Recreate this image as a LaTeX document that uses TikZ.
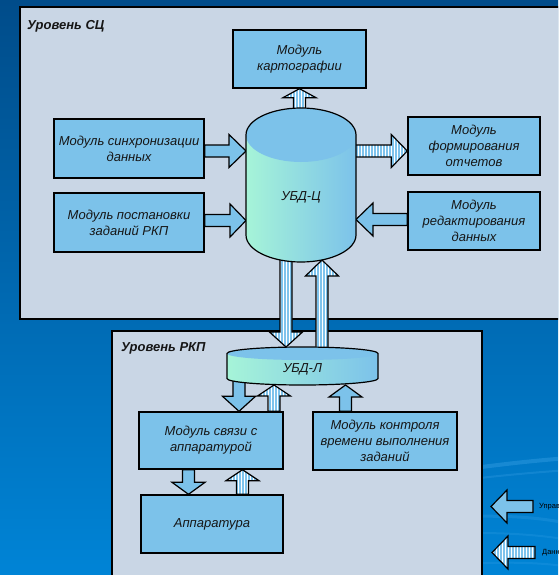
\documentclass[tikz,border=0pt]{standalone}
\usepackage{fontspec}
\setmainfont{Liberation Sans}
\usetikzlibrary{calc,patterns.meta}

\definecolor{bgtop}{HTML}{004C8A}
\definecolor{bgbot}{HTML}{0084D6}
\definecolor{panelfill}{HTML}{C9D6E5}
\definecolor{modfill}{HTML}{7CC2EA}
\definecolor{mint}{HTML}{A6F4D8}
\definecolor{stripe}{HTML}{7EC3EC}
\definecolor{ink}{HTML}{161616}
\definecolor{swoosh}{HTML}{6CC4FF}

\tikzset{
  panel/.style={draw=black, line width=1.5pt, fill=panelfill},
  module/.style={draw=black, line width=1.4pt, fill=modfill, align=center,
    text=ink, inner sep=2pt, font=\fontsize{13}{16}\selectfont\itshape},
  levellabel/.style={anchor=base west, inner sep=0pt, text=ink,
    font=\fontsize{13}{16}\selectfont\bfseries\itshape},
  dblabel/.style={inner sep=0pt, text=ink, font=\fontsize{13}{16}\selectfont\itshape},
  legendlabel/.style={anchor=west, inner sep=0pt, text=black,
    font=\fontsize{7.5}{9}\selectfont},
  dbframe/.style={inner sep=0pt, outer sep=0pt},
  dboutline/.style={draw=black, line width=1.2pt},
  % block arrow: #1 shaft half width, #2 head half width, #3 head length
  blockarrow/.style n args={3}{to path={
    ($(\tikztostart)!#1!90:(\tikztotarget)$)
    -- ($($(\tikztotarget)!#3!(\tikztostart)$)!#1!90:(\tikztotarget)$)
    -- ($($(\tikztotarget)!#3!(\tikztostart)$)!#2!90:(\tikztotarget)$)
    -- (\tikztotarget)
    -- ($($(\tikztotarget)!#3!(\tikztostart)$)!#2!-90:(\tikztotarget)$)
    -- ($($(\tikztotarget)!#3!(\tikztostart)$)!#1!-90:(\tikztotarget)$)
    -- ($(\tikztostart)!#1!-90:(\tikztotarget)$)
    -- cycle}},
  ctrlarrow/.style={draw=black, line width=1.2pt, fill=modfill,
    blockarrow={6pt}{16.5pt}{#1}},
  dataarrow/.style={draw=black, line width=1.2pt, preaction={fill=white},
    pattern={Lines[angle=90,distance=3pt,line width=1.8pt]}, pattern color=stripe,
    blockarrow={6pt}{16.5pt}{#1}},
}

\begin{document}
\begin{tikzpicture}[x=1pt,y=-1pt]
\useasboundingbox (0,0) rectangle (558,575);
\clip (0,0) rectangle (558,575);

% background
\shade[top color=bgtop, bottom color=bgbot] (0,0) rectangle (558,575);
\draw[swoosh, line width=4pt, opacity=0.22] (430,474) .. controls (500,464) and (540,460) .. (570,458);
\draw[swoosh, line width=2pt, opacity=0.16] (430,484) .. controls (500,475) and (540,472) .. (570,470);
\draw[swoosh, line width=3pt, opacity=0.14] (430,518) .. controls (500,514) and (540,517) .. (570,524);
\draw[swoosh, line width=2pt, opacity=0.12] (430,534) .. controls (500,531) and (540,535) .. (570,540);
\draw[swoosh, line width=2pt, opacity=0.12] (430,566) .. controls (500,561) and (540,562) .. (570,567);

% level panels
\draw[panel] (20,7) rectangle (575,319);
\draw[panel] (112,331) rectangle (482,590);
\node[levellabel] (lvlsc) at (27,29.3) {Уровень СЦ};
\node[levellabel] (lvlrkp) at (121,351.7) {Уровень РКП};

% modules
\node[module, minimum width=133pt, minimum height=58pt] (kart) at (299.5,59) {Модуль\\картографии};
\node[module, minimum width=150pt, minimum height=59pt] (sync) at (129,148.5) {Модуль синхронизации\\данных};
\node[module, minimum width=150pt, minimum height=59pt] (post) at (129,222.5) {Модуль постановки\\заданий РКП};
\node[module, minimum width=132pt, minimum height=58pt] (form) at (474,146) {Модуль\\формирования\\отчетов};
\node[module, minimum width=132pt, minimum height=58pt] (edit) at (474,221) {Модуль\\редактирования\\данных};
\node[module, minimum width=144pt, minimum height=57pt] (svyaz) at (211,440.5) {Модуль связи с\\аппаратурой};
\node[module, minimum width=144pt, minimum height=58pt] (kontrol) at (385,441) {Модуль контроля\\времени выполнения\\заданий};
\node[module, minimum width=142pt, minimum height=58pt] (appar) at (212,524) {Аппаратура};

% database frames
\node[dbframe, minimum width=110pt, minimum height=152pt] (ubdc) at (301,184) {};
\node[dbframe, minimum width=151pt, minimum height=38pt] (ubdl) at (302.5,366) {};

% connectors of the central level
\draw[dataarrow=9pt] (kart.south |- ubdc.center) to (kart.south);
\draw[ctrlarrow=17pt] (sync.east |- 0,151) to (ubdc.west |- 0,151);
\draw[ctrlarrow=16pt] (post.east |- 0,220.5) to (ubdc.west |- 0,220.5);
\draw[dataarrow=16pt] (ubdc.center |- 0,151) to (form.west |- 0,151);
\draw[ctrlarrow=17pt] (edit.west |- 0,219.5) to (ubdc.east |- 0,219.5);

% exchange between the two databases
\draw[dataarrow=15pt] (ubdc.center -| 286,0) to (ubdl.north -| 286,0);
\draw[dataarrow=16pt] (ubdl.center -| 322,0) to (ubdc.south -| 322,0);

% connectors of the RKP level
\draw[ctrlarrow=15pt] (ubdl.center -| 239,0) to (svyaz.north -| 239,0);
\draw[dataarrow=11pt] (svyaz.north -| 274,0) to (ubdl.south -| 274,0);
\draw[ctrlarrow=12pt] (kontrol.north -| 345.5,0) to (ubdl.south -| 345.5,0);
\draw[ctrlarrow=12pt] (svyaz.south -| 188.5,0) to (appar.north -| 188.5,0);
\draw[dataarrow=11pt] (appar.north -| 242.5,0) to (svyaz.south -| 242.5,0);

% central database cylinder
\shade[left color=mint, right color=modfill]
  (246,135) -- (246,235) arc[start angle=180, end angle=360, x radius=55pt, y radius=27pt]
  -- (356,135) arc[start angle=0, end angle=180, x radius=55pt, y radius=27pt] -- cycle;
\fill[modfill] (301,135) ellipse[x radius=55pt, y radius=27pt];
\draw[dboutline]
  (246,135) -- (246,235) arc[start angle=180, end angle=360, x radius=55pt, y radius=27pt]
  -- (356,135) arc[start angle=0, end angle=180, x radius=55pt, y radius=27pt] -- cycle;
\node[dblabel] (ubdctext) at (301,197.5) {УБД-Ц};

% local database cylinder
\shade[left color=mint, right color=modfill]
  (227,353.5) -- (227,378.5) arc[start angle=180, end angle=360, x radius=75.5pt, y radius=6.5pt]
  -- (378,353.5) arc[start angle=0, end angle=180, x radius=75.5pt, y radius=6.5pt] -- cycle;
\fill[modfill] (302.5,353.5) ellipse[x radius=75.5pt, y radius=6.5pt];
\draw[dboutline]
  (227,353.5) -- (227,378.5) arc[start angle=180, end angle=360, x radius=75.5pt, y radius=6.5pt]
  -- (378,353.5) arc[start angle=0, end angle=180, x radius=75.5pt, y radius=6.5pt] -- cycle;
\node[dblabel] (ubdltext) at (302.5,369.5) {УБД-Л};

% legend
\coordinate (legc0) at (533,506.5);
\coordinate (legc1) at (491,506.5);
\draw[ctrlarrow=16pt] (legc0) to (legc1);
\node[legendlabel] (legctext) at (539,506.5) {Управление};
\coordinate (legd0) at (535,552.5);
\coordinate (legd1) at (492,552.5);
\draw[dataarrow=16pt] (legd0) to (legd1);
\node[legendlabel] (legdtext) at (542,553) {Данные};
\end{tikzpicture}
\end{document}
